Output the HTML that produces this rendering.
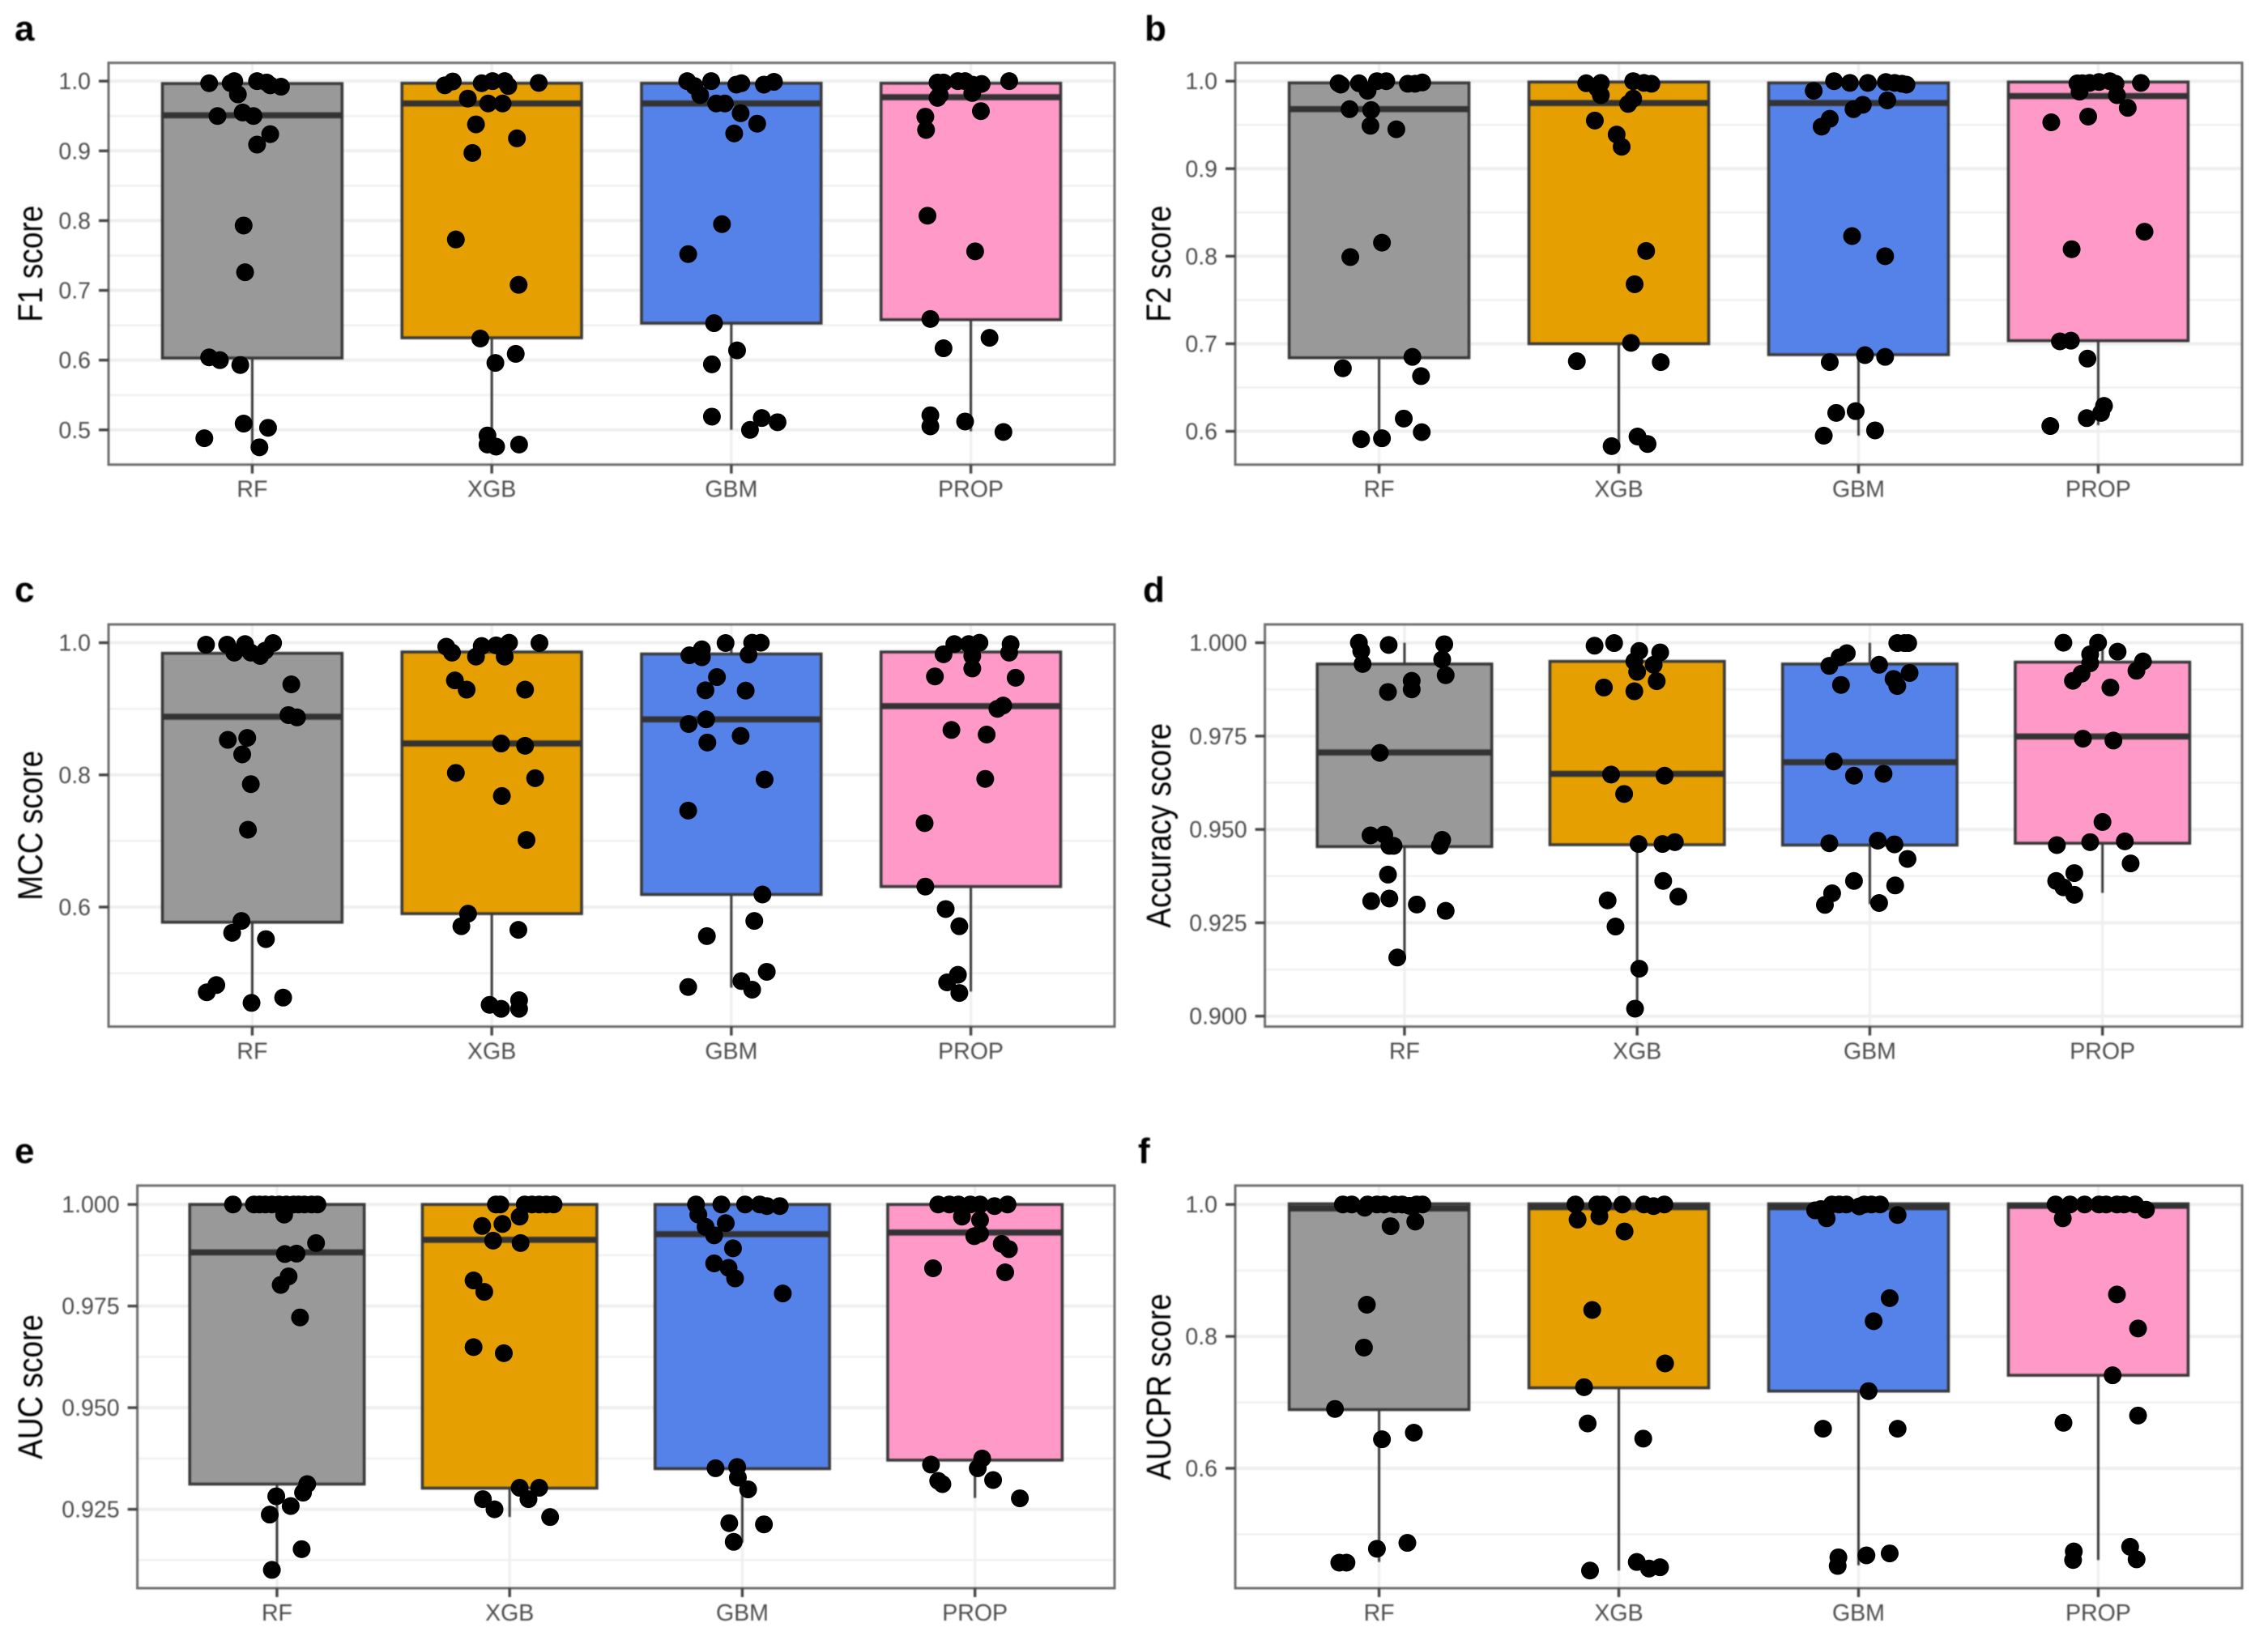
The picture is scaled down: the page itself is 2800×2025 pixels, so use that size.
<!DOCTYPE html>
<html lang="en">
<head>
<meta charset="utf-8">
<title>Model score comparison</title>
<style>
html,body{margin:0;padding:0;background:#fff;}
svg{display:block;}
text{font-family:"Liberation Sans",sans-serif;}
.soft{filter:blur(0.8px);}
</style>
</head>
<body>
<svg id="figure" xmlns="http://www.w3.org/2000/svg" width="2800" height="2025" viewBox="0 0 2800 2025"></svg>
<script>
const categories = ['RF', 'XGB', 'GBM', 'PROP'];
const boxColors = ['#999999', '#E69F00', '#5482E8', '#FF99C8'];

/* ---------- a: F1 ---------- */
const f1Domain = [0.4502, 1.0262];
const f1Ticks = [0.5, 0.6, 0.7, 0.8, 0.9, 1.0];
const f1TickLabels = ['0.5', '0.6', '0.7', '0.8', '0.9', '1.0'];
const f1Minor = [0.45, 0.55, 0.65, 0.75, 0.85, 0.95];
const f1Q1 = [0.603, 0.632, 0.653, 0.658];
const f1Median = [0.951, 0.968, 0.968, 0.977];
const f1Q3 = [0.9965, 0.997, 0.997, 0.997];
const f1Low = [0.477, 0.484, 0.5, 0.498];
const f1High = [1.0, 1.0, 1.0, 1.0];
const f1RfValues = [.997,.997,1,.981,1,.998,.994,.992,.95,.955,.95,.924,.909,.793,.726,.604,.6,.593,.509,.503,.488,.475];
const f1RfJitter = [-.18,-.09,-.075,-.06,.02,.06,.075,.12,-.145,-.04,.005,.075,.02,-.036,-.03,-.18,-.135,-.05,-.036,.066,-.2,.03];
const f1XgbValues = [.994,.9995,.997,1,1,.993,.9975,.975,.968,.968,.938,.918,.897,.773,.708,.631,.609,.596,.492,.479,.476,.479];
const f1XgbJitter = [-.196,-.163,-.042,.003,.054,.069,.196,-.1,-.015,.045,-.066,.105,-.081,-.15,.112,-.048,.1,.015,-.018,-.018,.018,.114];
const f1GbmValues = [1,.993,1,.995,.997,.995,.999,.98,.968,.968,.954,.939,.925,.795,.752,.653,.614,.594,.519,.517,.5,.511];
const f1GbmJitter = [-.184,-.154,-.084,.021,.042,.136,.178,-.13,-.063,-.027,.039,.108,.012,-.039,-.18,-.072,.024,-.081,-.081,.127,.078,.193];
const f1PropValues = [.998,.998,1,1,.995,.996,1,.983,.976,.98,.957,.949,.93,.807,.756,.659,.617,.632,.521,.505,.512,.497];
const f1PropJitter = [-.139,-.114,-.054,-.024,.006,.045,.16,.006,-.139,-.13,.042,-.19,-.187,-.181,.018,-.169,-.114,.078,-.169,-.169,-.024,.136];

/* ---------- b: F2 ---------- */
const f2Domain = [0.5619, 1.0209];
const f2Ticks = [0.6, 0.7, 0.8, 0.9, 1.0];
const f2TickLabels = ['0.6', '0.7', '0.8', '0.9', '1.0'];
const f2Minor = [0.65, 0.75, 0.85, 0.95];
const f2Q1 = [0.684, 0.70, 0.6875, 0.7035];
const f2Median = [0.968, 0.975, 0.975, 0.983];
const f2Q3 = [0.998, 0.999, 0.998, 0.999];
const f2Low = [0.591, 0.583, 0.595, 0.607];
const f2High = [1.0, 1.0, 1.0, 1.0];
const f2RfValues = [.9976,.9976,.989,1,1,.997,.9985,.997,.968,.967,.949,.945,.8155,.799,.685,.672,.663,.6145,.599,.591,.592,.996];
const f2RfJitter = [-.169,-.084,-.048,-.009,.03,.12,.18,.15,-.123,-.033,-.036,.072,.012,-.12,.139,-.151,.175,.103,.178,-.075,.012,-.16];
const f2XgbValues = [.9976,.998,.992,.984,1,.997,.998,.974,.98,.955,.939,.925,.806,.768,.701,.68,.679,.594,.583,.5855];
const f2XgbJitter = [-.136,-.075,-.09,-.075,.06,.136,.105,.039,.06,-.1,-.009,.012,.114,.066,.051,-.175,.175,.078,-.03,.12];
const f2GbmValues = [.989,1,.998,.998,.999,.997,.998,.996,.978,.973,.968,.957,.948,.823,.8,.679,.687,.685,.623,.621,.601,.595];
const f2GbmJitter = [-.187,-.102,-.036,.039,.114,.181,.151,.2,.12,.018,-.021,-.12,-.154,-.027,.111,-.12,.027,.111,-.012,-.093,.069,-.145];
const f2PropValues = [.9975,.988,.998,1,.997,.998,.984,.9695,.953,.9595,.828,.808,.7027,.7035,.683,.629,.621,.615,.606,.9976,.999];
const f2PropJitter = [-.087,-.078,-.036,.048,.072,.178,.078,.123,-.196,-.042,.193,-.111,-.16,-.114,-.045,.024,.012,-.048,-.2,-.066,.003];

/* ---------- c: MCC ---------- */
const mccDomain = [0.4191, 1.0277];
const mccTicks = [0.6, 0.8, 1.0];
const mccTickLabels = ['0.6', '0.8', '1.0'];
const mccMinor = [0.5, 0.7, 0.9];
const mccQ1 = [0.577, 0.59, 0.619, 0.631];
const mccMedian = [0.888, 0.8475, 0.884, 0.904];
const mccQ3 = [0.984, 0.986, 0.983, 0.986];
const mccLow = [0.451, 0.449, 0.478, 0.472];
const mccHigh = [1.0, 1.0, 1.0, 1.0];
const mccRfValues = [.997,.997,.985,.998,.985,.98,.988,.9995,.937,.8905,.887,.853,.856,.831,.786,.717,.579,.561,.5515,.482,.471,.455,.463];
const mccRfJitter = [-.193,-.105,-.075,-.03,-.006,.033,.054,.087,.163,.151,.187,-.102,-.021,-.042,-.006,-.018,-.045,-.084,.057,-.15,-.19,-.003,.129];
const mccXgbValues = [.994,.985,.979,.995,.996,1,.979,.9995,.943,.929,.929,.8475,.844,.803,.795,.768,.7015,.59,.571,.5655,.452,.446,.459,.446];
const mccXgbJitter = [-.19,-.166,-.066,-.042,.018,.072,.054,.199,-.154,-.105,.139,.039,.139,-.15,.181,.042,.145,-.099,-.127,.111,-.009,.039,.114,.114];
const mccGbmValues = [.981,.99,.978,.9995,.982,1,1,.948,.928,.9275,.884,.877,.849,.859,.793,.746,.619,.579,.556,.502,.488,.475,.479];
const mccGbmJitter = [-.175,-.123,-.123,-.024,.072,.087,.123,-.06,-.108,.06,-.105,-.178,-.1,.039,.139,-.18,.13,.096,-.102,.148,.042,.087,-.18];
const mccPropValues = [.9825,.998,.998,1,.98,.961,.998,.985,.949,.947,.9,.905,.868,.861,.794,.727,.631,.597,.571,.4975,.486,.47];
const mccPropJitter = [-.114,-.069,-.009,.036,.006,.006,.166,.16,-.15,.187,.111,.135,-.081,.066,.06,-.193,-.19,-.105,-.048,-.054,-.099,-.048];

/* ---------- d: Accuracy ---------- */
const accDomain = [0.8972, 1.0049];
const accTicks = [0.9, 0.925, 0.95, 0.975, 1.0];
const accTickLabels = ['0.900', '0.925', '0.950', '0.975', '1.000'];
const accMinor = [0.9125, 0.9375, 0.9625, 0.9875];
const accQ1 = [0.9454, 0.9459, 0.9458, 0.9463];
const accMedian = [0.9706, 0.9649, 0.968, 0.9749];
const accQ3 = [0.9943, 0.995, 0.9943, 0.9948];
const accLow = [0.916, 0.9024, 0.930, 0.933];
const accHigh = [1.0, 1.0, 1.0, 1.0];
const accRfValues = [1,.9978,.9943,.9994,.9996,.9955,.9913,.9898,.9875,.9868,.9705,.9484,.9486,.9456,.9456,.9472,.9456,.9379,.9308,.9315,.9299,.9282,.9157];
const accRfJitter = [-.196,-.186,-.18,-.068,.171,.162,.177,.031,.031,-.071,-.106,-.146,-.087,-.065,-.047,.162,.152,-.071,-.143,-.065,.053,.177,-.031];
const accXgbValues = [.9992,.9999,.9978,.995,.9922,.9974,.9941,.9897,.988,.987,.9647,.9644,.9595,.9461,.9461,.9466,.9362,.932,.931,.924,.9127,.902];
const accXgbJitter = [-.183,-.099,.009,-.012,0,.099,.071,.084,-.143,-.012,-.112,.118,-.056,.006,.109,.162,.112,.177,-.127,-.093,.009,-.009];
const accGbmValues = [.9999,.9999,.9999,.9972,.9961,.9938,.9941,.9919,.9903,.9884,.9887,.9682,.9644,.9649,.9463,.947,.946,.9421,.9362,.935,.9329,.9298,.9303];
const accGbmJitter = [.165,.118,.149,-.099,-.13,-.174,.04,.171,.102,.118,-.124,-.155,-.068,.059,-.174,.034,.106,.162,-.068,.109,-.162,-.193,.04];
const accPropValues = [1,1,.9976,.9969,.9945,.9917,.9898,.995,.9925,.988,.9743,.9738,.952,.9458,.9466,.9468,.9409,.9383,.9362,.9345,.9325];
const accPropJitter = [-.168,-.019,.065,-.053,-.053,-.09,-.127,.174,.146,.034,-.084,.047,0,-.196,-.053,.096,.121,-.121,-.199,-.168,-.121];

/* ---------- e: AUC ---------- */
const aucDomain = [0.9056, 1.00464];
const aucTicks = [0.925, 0.95, 0.975, 1.0];
const aucTickLabels = ['0.925', '0.950', '0.975', '1.000'];
const aucMinor = [0.9125, 0.9375, 0.9625, 0.9875];
const aucQ1 = [0.9312, 0.9302, 0.935, 0.9371];
const aucMedian = [0.9882, 0.9913, 0.9927, 0.9931];
const aucQ3 = [1.0, 1.0, 1.0, 1.0];
const aucLow = [0.910, 0.9231, 0.9168, 0.9278];
const aucHigh = [1.0, 1.0, 1.0, 1.0];
const aucRfValues = [1,1,1,.9975,1,1,1,.9905,.9878,.9879,.9823,.9802,.9722,.9312,.9291,.9282,.9258,.9237,.9152,.9101,1,1,1,1,1,1];
const aucRfJitter = [-.189,-.075,-.022,.031,.071,.118,.174,.168,.034,.084,.05,.016,.099,.13,.112,-.003,.059,-.031,.106,-.022,-.099,-.05,.009,.04,.093,.149];
const aucXgbValues = [1,.997,1,1,1,1,.9947,.9952,.9911,.9905,.9813,.9785,.9649,.9634,.9303,.9303,.9275,.9275,.925,.9231,1,1];
const aucXgbJitter = [-.059,.043,.065,.127,.189,.158,-.118,-.031,-.071,.047,-.155,-.109,-.155,-.025,.043,.127,-.115,.081,-.065,.174,-.04,.096];
const aucGbmValues = [1,.9975,1,1,1,.9996,.9996,.9945,.9954,.9924,.9892,.9855,.9844,.9818,.9781,.9351,.9354,.9328,.9299,.9216,.9213,.917];
const aucGbmJitter = [-.199,-.189,-.09,.012,.075,.106,.161,-.158,-.071,-.121,-.04,-.121,-.059,-.031,.174,-.115,-.022,-.019,.025,-.056,.093,-.037];
const aucPropValues = [1,1,1,.9996,1,.997,.9962,.9928,.9922,.9903,.989,.9843,.9833,.9375,.9351,.936,.932,.9312,.9322,.9277,1,1];
const aucPropJitter = [-.158,-.071,.022,.084,.14,-.056,.022,.022,-.003,.115,.146,-.18,.13,.031,.012,-.189,-.158,-.14,.078,.193,-.11,-.02];

/* ---------- f: AUCPR ---------- */
const prDomain = [0.4183, 1.0286];
const prTicks = [0.6, 0.8, 1.0];
const prTickLabels = ['0.6', '0.8', '1.0'];
const prMinor = [0.5, 0.7, 0.9];
const prQ1 = [0.689, 0.722, 0.717, 0.741];
const prMedian = [0.994, 0.996, 0.996, 0.998];
const prQ3 = [1.001, 1.001, 1.001, 1.001];
const prLow = [0.458, 0.445, 0.453, 0.461];
const prHigh = [1.001, 1.001, 1.001, 1.001];
const prRfValues = [1,.995,1,1,1,1,1,.974,.967,.848,.783,.69,.654,.644,.487,.478,.457,.457,1,1,1,.998];
const prRfJitter = [-.151,-.06,-.048,.021,.096,.157,.181,.151,.048,-.051,-.063,-.184,.145,.012,.118,-.009,-.166,-.136,-.114,-.009,.066,.127];
const prXgbValues = [1,1,1,1,1,.9975,1,.977,.982,.959,.84,.759,.723,.668,.645,.458,.445,.448,.45];
const prXgbJitter = [-.181,-.09,-.066,.015,.105,.145,.19,-.172,-.081,.024,-.111,.193,-.145,-.13,.102,.075,-.12,.126,.172];
const prGbmValues = [.991,.979,1,1,.997,1,1,.984,.858,.823,.717,.66,.66,.465,.452,.468,.471,.993,1,1];
const prGbmJitter = [-.181,-.133,-.111,-.051,.003,.054,.09,.163,.13,.063,.042,-.148,.163,-.084,-.087,.033,.13,-.157,-.081,.024];
const prPropValues = [1,.979,1,1,1,1,.992,.8635,.812,.741,.68,.669,.481,.462,.474,.461,1,1,1];
const prPropJitter = [-.178,-.148,-.057,.033,.078,.154,.199,.078,.166,.06,.166,-.145,.133,.16,-.102,-.105,-.118,.003,.108];

const panels = [
  {key:'f1', tag:'a', title:'F1 score', tagX:18, tagY:50, titleX:52, left:134, right:1376, top:77.6, bottom:573.7,
   domain:f1Domain, ticks:f1Ticks, tickLabels:f1TickLabels, minor:f1Minor, q1:f1Q1, median:f1Median, q3:f1Q3, low:f1Low, high:f1High,
   values:[f1RfValues,f1XgbValues,f1GbmValues,f1PropValues], jitter:[f1RfJitter,f1XgbJitter,f1GbmJitter,f1PropJitter]},
  {key:'f2', tag:'b', title:'F2 score', tagX:1413, tagY:50, titleX:1445, left:1525, right:2768, top:77.6, bottom:573.7,
   domain:f2Domain, ticks:f2Ticks, tickLabels:f2TickLabels, minor:f2Minor, q1:f2Q1, median:f2Median, q3:f2Q3, low:f2Low, high:f2High,
   values:[f2RfValues,f2XgbValues,f2GbmValues,f2PropValues], jitter:[f2RfJitter,f2XgbJitter,f2GbmJitter,f2PropJitter]},
  {key:'mcc', tag:'c', title:'MCC score', tagX:18, tagY:743, titleX:52, left:134, right:1376, top:771, bottom:1267.6,
   domain:mccDomain, ticks:mccTicks, tickLabels:mccTickLabels, minor:mccMinor, q1:mccQ1, median:mccMedian, q3:mccQ3, low:mccLow, high:mccHigh,
   values:[mccRfValues,mccXgbValues,mccGbmValues,mccPropValues], jitter:[mccRfJitter,mccXgbJitter,mccGbmJitter,mccPropJitter]},
  {key:'accuracy', tag:'d', title:'Accuracy score', tagX:1411, tagY:743, titleX:1445, left:1561.6, right:2768, top:771, bottom:1267.6,
   domain:accDomain, ticks:accTicks, tickLabels:accTickLabels, minor:accMinor, q1:accQ1, median:accMedian, q3:accQ3, low:accLow, high:accHigh,
   values:[accRfValues,accXgbValues,accGbmValues,accPropValues], jitter:[accRfJitter,accXgbJitter,accGbmJitter,accPropJitter]},
  {key:'auc', tag:'e', title:'AUC score', tagX:18, tagY:1436, titleX:52, left:169.6, right:1376, top:1463.9, bottom:1961,
   domain:aucDomain, ticks:aucTicks, tickLabels:aucTickLabels, minor:aucMinor, q1:aucQ1, median:aucMedian, q3:aucQ3, low:aucLow, high:aucHigh,
   values:[aucRfValues,aucXgbValues,aucGbmValues,aucPropValues], jitter:[aucRfJitter,aucXgbJitter,aucGbmJitter,aucPropJitter]},
  {key:'aucpr', tag:'f', title:'AUCPR score', tagX:1405, tagY:1436, titleX:1445, left:1525, right:2768, top:1463.9, bottom:1961,
   domain:prDomain, ticks:prTicks, tickLabels:prTickLabels, minor:prMinor, q1:prQ1, median:prMedian, q3:prQ3, low:prLow, high:prHigh,
   values:[prRfValues,prXgbValues,prGbmValues,prPropValues], jitter:[prRfJitter,prXgbJitter,prGbmJitter,prPropJitter]}
];

const NS = 'http://www.w3.org/2000/svg';
const GRID = '#efefef';
const INK = '#3a3a3a';
const POINT_RADIUS = 11;

function create(parent, tag, props, text) {
  const el = document.createElementNS(NS, tag);
  for (const k in props) el.setAttribute(k, props[k]);
  if (text !== undefined) el.textContent = text;
  parent.appendChild(el);
  return el;
}

function drawPanel(p) {
  const root = document.getElementById('figure');
  const step = (p.right - p.left) / 4.2;
  const xScale = function (pos) { return p.left + (0.6 + pos) * step; };
  const yScale = function (v) {
    return p.bottom - (v - p.domain[0]) / (p.domain[1] - p.domain[0]) * (p.bottom - p.top);
  };
  const halfBox = 0.375 * step;

  const panel = create(root, 'g', {});
  
  

  const soft = create(panel, 'g', {class: 'soft'});
  
  

  const tagText = create(soft, 'text', {x: p.tagX, y: p.tagY, 'font-size': 44, 'font-weight': 'bold', fill: '#000'}, p.tag);
  
  

  const cy = (p.top + p.bottom) / 2;
  const title = create(soft, 'text', {
    transform: 'translate(' + p.titleX + ',' + cy + ') rotate(-90) scale(1,1.15)',
    'text-anchor': 'middle', 'font-size': 37, fill: '#000'
  }, p.title);
  
  

  create(soft, 'rect', {x: p.left, y: p.top, width: p.right - p.left, height: p.bottom - p.top, fill: '#fff'});

  p.minor.forEach(function (v) {
    const line = create(soft, 'line', {x1: p.left, x2: p.right, y1: yScale(v), y2: yScale(v), stroke: GRID, 'stroke-width': 2.2});
    
    
  });
  p.ticks.forEach(function (v) {
    const line = create(soft, 'line', {x1: p.left, x2: p.right, y1: yScale(v), y2: yScale(v), stroke: GRID, 'stroke-width': 4});
    
    
  });
  categories.forEach(function (c, i) {
    const line = create(soft, 'line', {x1: xScale(i), x2: xScale(i), y1: p.top, y2: p.bottom, stroke: GRID, 'stroke-width': 3.2});
    
    
  });

  categories.forEach(function (c, i) {
    const cx = xScale(i);
    const whisker = create(soft, 'line', {x1: cx, x2: cx, y1: yScale(p.low[i]), y2: yScale(p.high[i]), stroke: INK, 'stroke-width': 3});
    
    
    const box = create(soft, 'rect', {
      x: cx - halfBox, width: 2 * halfBox, y: yScale(p.q3[i]), height: yScale(p.q1[i]) - yScale(p.q3[i]),
      fill: boxColors[i], stroke: INK, 'stroke-width': 3.6
    });
    
    
    const med = create(soft, 'line', {x1: cx - halfBox, x2: cx + halfBox, y1: yScale(p.median[i]), y2: yScale(p.median[i]), stroke: '#333', 'stroke-width': 7.5});
    
    
  });

  const frame = create(soft, 'rect', {x: p.left, y: p.top, width: p.right - p.left, height: p.bottom - p.top, fill: 'none', stroke: '#6e6e6e', 'stroke-width': 3});
  
  

  p.ticks.forEach(function (v, i) {
    const y = yScale(v);
    const mark = create(soft, 'line', {x1: p.left - 12, x2: p.left, y1: y, y2: y, stroke: '#444', 'stroke-width': 3.4});
    
    
    const lab = create(soft, 'text', {x: p.left - 22, y: y + 10, 'text-anchor': 'end', 'font-size': 28.5, fill: '#4d4d4d'}, p.tickLabels[i]);
    
    
  });
  categories.forEach(function (c, i) {
    const x = xScale(i);
    const mark = create(soft, 'line', {x1: x, x2: x, y1: p.bottom, y2: p.bottom + 11, stroke: '#444', 'stroke-width': 3.4});
    
    
    const lab = create(soft, 'text', {x: x, y: p.bottom + 40, 'text-anchor': 'middle', 'font-size': 28.5, fill: '#4d4d4d'}, c);
    
    
  });

  categories.forEach(function (c, i) {
    const group = create(panel, 'g', {fill: '#000'});
    
    
    p.values[i].forEach(function (v, k) {
      const dot = create(group, 'circle', {cx: xScale(i + p.jitter[i][k]), cy: yScale(v), r: POINT_RADIUS});
      
      
    });
  });
}

panels.forEach(drawPanel);
</script>
</body>
</html>
